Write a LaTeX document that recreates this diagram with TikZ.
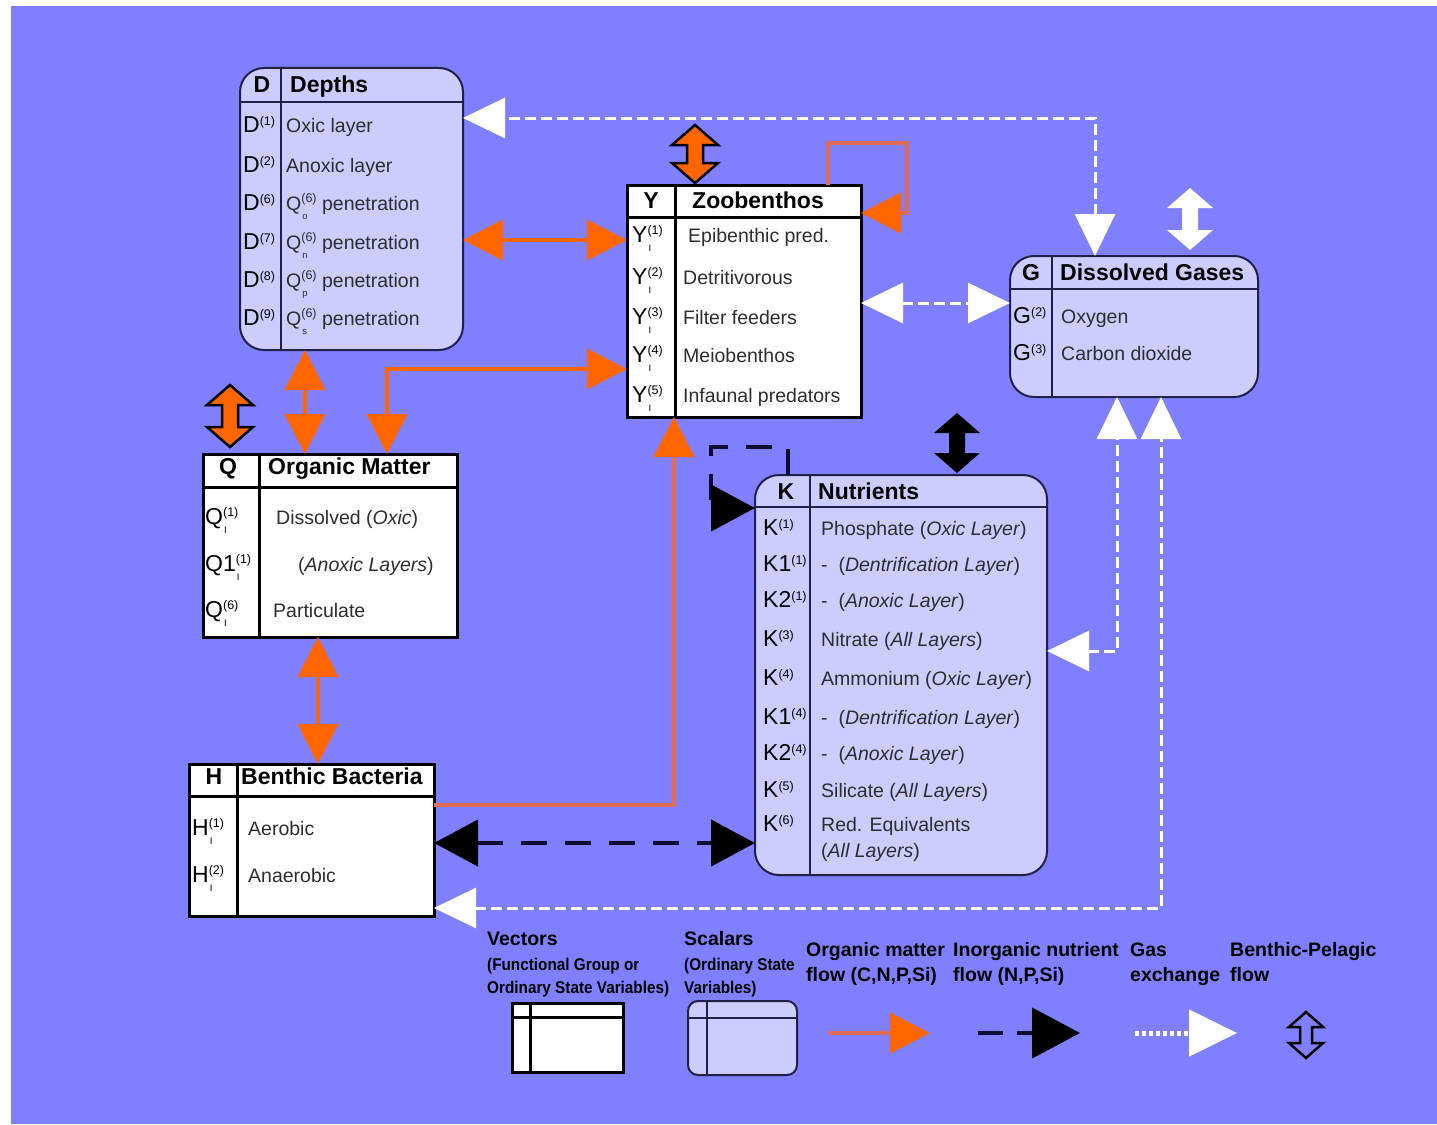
\documentclass[tikz,border=0pt]{standalone}
\usepackage{fontspec}
\setmainfont{Liberation Sans}
\usetikzlibrary{arrows.meta}
\definecolor{bgblue}{RGB}{128,128,255}
\definecolor{scal}{RGB}{204,204,255}
\definecolor{navy}{RGB}{32,32,72}
\definecolor{dkn}{RGB}{12,12,50}
\definecolor{org}{RGB}{255,102,0}
\definecolor{salmon}{RGB}{222,108,88}
\definecolor{ink}{RGB}{45,45,45}
\newcommand{\bodyf}{\fontsize{19.5}{22}\selectfont}
\newcommand{\labf}{\fontsize{23}{26}\selectfont}
\newcommand{\headf}{\bfseries\fontsize{23}{26}\selectfont}
\newcommand{\tinyf}{\fontsize{12.5}{13}\selectfont}
\newcommand{\subf}{\fontsize{9.5}{10}\selectfont}
\newcommand{\mysup}[1]{\raisebox{0.3em}{\tinyf #1}}
\newcommand{\supsub}[2]{\rlap{\raisebox{8pt}{\tinyf #1}}\rlap{\hspace{1pt}\raisebox{-8.5pt}{\subf #2}}\phantom{\tinyf #1}}
\newcommand{\boxrow}[6]{\node[lab] (#1l) at (#2,#4) {#5}; \node[txt] (#1t) at (#3,#4) {#6};}
\newcommand{\fatarr}[7]{\path[#1] (#2,#3) -- ({#2+#5},{#3+#7}) -- ({#2+#6},{#3+#7}) -- ({#2+#6},{#4-#7}) -- ({#2+#5},{#4-#7}) -- (#2,#4) -- ({#2-#5},{#4-#7}) -- ({#2-#6},{#4-#7}) -- ({#2-#6},{#3+#7}) -- ({#2-#5},{#3+#7}) -- cycle;}
\tikzset{
 vecbox/.style={draw=black, line width=3pt, fill=white, inner sep=0pt, outer sep=0pt, anchor=north west},
 scabox/.style={draw=navy, line width=2pt, fill=scal, rounded corners=24pt, inner sep=0pt, outer sep=0pt, anchor=north west},
 vsep/.style={draw=black, line width=3pt},
 ssep/.style={draw=navy, line width=2pt},
 hd/.style={font=\headf, anchor=mid west, inner sep=0pt, yshift=-5pt},
 hdc/.style={font=\headf, anchor=mid, inner sep=0pt, yshift=-5pt},
 lab/.style={font=\labf, anchor=mid west, inner sep=0pt, yshift=-5pt},
 txt/.style={font=\bodyf, anchor=mid west, inner sep=0pt, text=ink, yshift=-5pt},
 lgh/.style={font=\bfseries\fontsize{19.5}{22}\selectfont, anchor=mid west, inner sep=0pt, yshift=-5pt},
 lgs/.style={font=\bfseries\fontsize{17}{20}\selectfont, anchor=mid west, inner sep=0pt, yshift=-5pt},
 orgline/.style={draw=org, line width=4pt},
 salline/.style={draw=salmon, line width=4.5pt},
 obi/.style={>={Triangle[length=40pt,width=40pt,color=org]}, <->},
 oend/.style={>={Triangle[length=40pt,width=40pt,color=org]}, ->},
 gasline/.style={draw=white, line width=3pt, dash pattern=on 11pt off 5pt},
 wbi/.style={>={Triangle[length=42pt,width=40pt,color=white]}, <->},
 nutline/.style={draw=dkn, line width=4.5pt, dash pattern=on 26pt off 18pt},
 bbi/.style={>={Triangle[length=44pt,width=46pt,color=black]}, <->},
 bktip/.style={>={Triangle[length=44pt,width=46pt,color=black]}, ->},
}
\begin{document}
\begin{tikzpicture}[x=1pt,y=-1pt]
\useasboundingbox (0,0) rectangle (1437,1124);
\fill[bgblue] (11,6) rectangle (1437,1124);

% ---------- boxes ----------
\node[scabox, minimum width=223pt, minimum height=282pt] (depths) at (240,68) {};
\draw[ssep] (depths.west |- 0,102) -- (depths.east |- 0,102);
\draw[ssep] (depths.north -| 281,0) -- (depths.south -| 281,0);

\node[vecbox, minimum width=234pt, minimum height=232pt] (zoo) at (627,185) {};
\draw[vsep] (zoo.west |- 0,217) -- (zoo.east |- 0,217);
\draw[vsep] (zoo.north -| 675,0) -- (zoo.south -| 675,0);

\node[scabox, minimum width=248pt, minimum height=141pt] (gases) at (1010,256) {};
\draw[ssep] (gases.west |- 0,289) -- (gases.east |- 0,289);
\draw[ssep] (gases.north -| 1052,0) -- (gases.south -| 1052,0);

\node[vecbox, minimum width=254pt, minimum height=183pt] (om) at (203,454) {};
\draw[vsep] (om.west |- 0,487) -- (om.east |- 0,487);
\draw[vsep] (om.north -| 259,0) -- (om.south -| 259,0);

\node[scabox, minimum width=292pt, minimum height=400pt] (nutr) at (755,475) {};
\draw[ssep] (nutr.west |- 0,507) -- (nutr.east |- 0,507);
\draw[ssep] (nutr.north -| 810,0) -- (nutr.south -| 810,0);

\node[vecbox, minimum width=245pt, minimum height=152pt] (bact) at (189,764) {};
\draw[vsep] (bact.west |- 0,796) -- (bact.east |- 0,796);
\draw[vsep] (bact.north -| 237,0) -- (bact.south -| 237,0);

% ---------- Depths ----------
\node[hdc] (dH) at (262,85) {D};
\node[hd] (dT) at (290,85) {Depths};
\boxrow{d1}{243}{286}{125}{D\mysup{(1)}}{Oxic layer}
\boxrow{d2}{243}{286}{165}{D\mysup{(2)}}{Anoxic layer}
\boxrow{d3}{243}{286}{203}{D\mysup{(6)}}{Q\supsub{(6)}{o} penetration}
\boxrow{d4}{243}{286}{242}{D\mysup{(7)}}{Q\supsub{(6)}{n} penetration}
\boxrow{d5}{243}{286}{280}{D\mysup{(8)}}{Q\supsub{(6)}{p} penetration}
\boxrow{d6}{243}{286}{318}{D\mysup{(9)}}{Q\supsub{(6)}{s} penetration}

% ---------- Zoobenthos ----------
\node[hdc] (yH) at (651,201) {Y};
\node[hd] (yT) at (692,201) {Zoobenthos};
\boxrow{y1}{632}{688}{235}{Y\supsub{(1)}{I}}{Epibenthic pred.}
\boxrow{y2}{632}{683}{277}{Y\supsub{(2)}{I}}{Detritivorous}
\boxrow{y3}{632}{683}{317}{Y\supsub{(3)}{I}}{Filter feeders}
\boxrow{y4}{632}{683}{355}{Y\supsub{(4)}{I}}{Meiobenthos}
\boxrow{y5}{632}{683}{395}{Y\supsub{(5)}{I}}{Infaunal predators}

% ---------- Dissolved Gases ----------
\node[hdc] (gH) at (1031,273) {G};
\node[hd] (gT) at (1060,273) {Dissolved Gases};
\boxrow{g1}{1013}{1061}{316}{G\mysup{(2)}}{Oxygen}
\boxrow{g2}{1013}{1061}{353}{G\mysup{(3)}}{Carbon dioxide}

% ---------- Organic Matter ----------
\node[hdc] (qH) at (228,467) {Q};
\node[hd] (qT) at (268,467) {Organic Matter};
\boxrow{q1}{205}{276}{517}{Q\supsub{(1)}{I}}{Dissolved (\textit{Oxic})}
\boxrow{q2}{205}{298}{564}{Q1\supsub{(1)}{I}}{(\textit{Anoxic Layers})}
\boxrow{q3}{205}{273}{610}{Q\supsub{(6)}{I}}{Particulate}

% ---------- Nutrients ----------
\node[hdc] (kH) at (786,492) {K};
\node[hd] (kT) at (818,492) {Nutrients};
\boxrow{k1}{763}{821}{528}{K\mysup{(1)}}{Phosphate (\textit{Oxic Layer})}
\boxrow{k2}{763}{821}{564}{K1\mysup{(1)}}{- \ (\textit{Dentrification Layer})}
\boxrow{k3}{763}{821}{600}{K2\mysup{(1)}}{- \ (\textit{Anoxic Layer})}
\boxrow{k4}{763}{821}{639}{K\mysup{(3)}}{Nitrate (\textit{All Layers})}
\boxrow{k5}{763}{821}{678}{K\mysup{(4)}}{Ammonium (\textit{Oxic Layer})}
\boxrow{k6}{763}{821}{717}{K1\mysup{(4)}}{- \ (\textit{Dentrification Layer})}
\boxrow{k7}{763}{821}{753}{K2\mysup{(4)}}{- \ (\textit{Anoxic Layer})}
\boxrow{k8}{763}{821}{790}{K\mysup{(5)}}{Silicate (\textit{All Layers})}
\boxrow{k9}{763}{821}{824}{K\mysup{(6)}}{Red. Equivalents}
\node[txt] (k9t2) at (821,850) {(\textit{All Layers})};

% ---------- Benthic Bacteria ----------
\node[hdc] (hH) at (214,777) {H};
\node[hd] (hT) at (241,777) {Benthic Bacteria};
\boxrow{h1}{192}{248}{828}{H\supsub{(1)}{I}}{Aerobic}
\boxrow{h2}{192}{248}{875}{H\supsub{(2)}{I}}{Anaerobic}

% ---------- connectors ----------
\draw[gasline, wbi] (gases.north -| 1095,0) |- (depths.east |- 0,118);
\draw[gasline, wbi] (zoo.east |- 0,303) -- (gases.west |- 0,303);
\draw[gasline, wbi] (nutr.east |- 0,651) -| (gases.south -| 1117,0);
\draw[gasline, wbi] (bact.east |- 0,908) -| (gases.south -| 1161,0);

\draw[orgline, obi] (depths.east |- 0,240) -- (zoo.west |- 0,240);
\draw[salline, oend] (zoo.north -| 828,0) |- (907,143) |- (zoo.east |- 0,213);
\draw[orgline, obi] (depths.south -| 305,0) -- (om.north -| 305,0);
\draw[orgline, obi] (zoo.west |- 0,369) -| (om.north -| 387,0);
\draw[orgline, obi] (om.south -| 318,0) -- (bact.north -| 318,0);
\draw[salline, oend] (bact.east |- 0,805) -| (zoo.south -| 674,0);

\draw[nutline, bbi] (bact.east |- 0,843) -- (nutr.west |- 0,843);
\draw[nutline, bktip] (nutr.north -| 788,0) |- (711,447) |- (nutr.west |- 0,508);

\fatarr{fill=org, draw=black, line width=2.5pt}{695}{125}{183}{23}{8}{20}
\fatarr{fill=org, draw=black, line width=2.5pt}{230}{385}{447}{23}{8}{20}
\fatarr{fill=white}{1190}{188}{250}{23}{8}{20}
\fatarr{fill=black}{957}{413}{473}{23}{8}{20}

% ---------- legend ----------
\node[lgh] (lv) at (487,938) {Vectors};
\node[lgs] (lv1) at (487,963) {\scalebox{0.9}[1]{(Functional Group or}};
\node[lgs] (lv2) at (487,986) {\scalebox{0.9}[1]{Ordinary State Variables)}};
\node[lgh] (ls) at (684,938) {Scalars};
\node[lgs] (ls1) at (684,963) {\scalebox{0.9}[1]{(Ordinary State}};
\node[lgs] (ls2) at (684,986) {\scalebox{0.9}[1]{Variables)}};
\node[lgh] (lo) at (806,949) {Organic matter};
\node[lgh] (lo2) at (806,974) {flow (C,N,P,Si)};
\node[lgh] (ln) at (953,949) {Inorganic nutrient};
\node[lgh] (ln2) at (953,974) {flow (N,P,Si)};
\node[lgh] (lg) at (1130,949) {Gas};
\node[lgh] (lg2) at (1130,974) {exchange};
\node[lgh] (lb) at (1230,949) {Benthic-Pelagic};
\node[lgh] (lb2) at (1230,974) {flow};

\node[vecbox, minimum width=111pt, minimum height=69pt] (legv) at (512,1003) {};
\draw[vsep] (legv.west |- 0,1017) -- (legv.east |- 0,1017);
\draw[vsep] (legv.north -| 530,0) -- (legv.south -| 530,0);
\node[scabox, rounded corners=10pt, minimum width=109pt, minimum height=74pt] (legs) at (688,1001) {};
\draw[ssep] (legs.west |- 0,1018) -- (legs.east |- 0,1018);
\draw[ssep] (legs.north -| 707,0) -- (legs.south -| 707,0);

\coordinate (lo1) at (828,1033); \coordinate (lo3) at (930,1033);
\draw[salline, oend] (lo1) -- (lo3);
\coordinate (ln1) at (978,1033); \coordinate (ln3) at (1080,1033);
\draw[nutline, dash pattern=on 25pt off 14pt, >={Triangle[length=48pt,width=50pt,color=black]}, ->] (ln1) -- (ln3);
\coordinate (lw1) at (1135,1033); \coordinate (lw3) at (1237,1033);
\draw[draw=white, line width=5pt, dash pattern=on 4pt off 3pt, >={Triangle[length=48pt,width=46pt,color=white]}, ->] (lw1) -- (lw3);
\fatarr{fill=bgblue, draw=black, line width=2.5pt}{1306}{1012}{1058}{17}{6}{15}
\end{tikzpicture}
\end{document}
